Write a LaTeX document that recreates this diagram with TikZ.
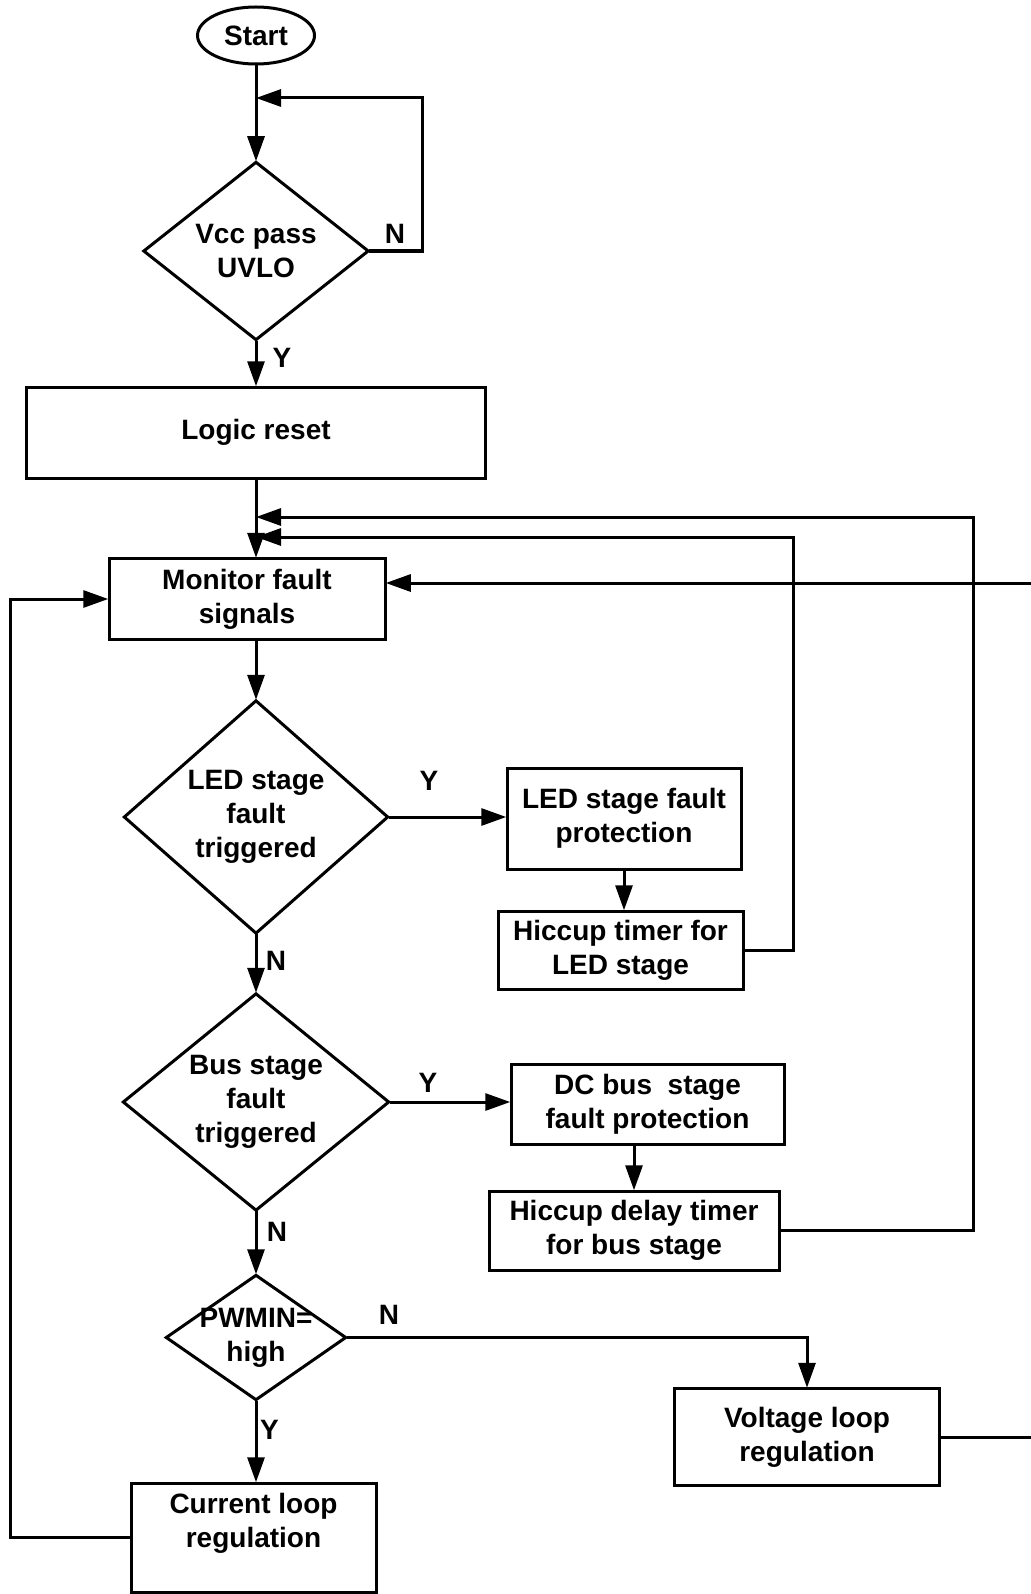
\documentclass[tikz,border=0pt]{standalone}
\usepackage{fontspec}
\setmainfont{Liberation Sans}
\usetikzlibrary{positioning,arrows.meta,shapes.geometric}

\begin{document}
\begin{tikzpicture}[x=1pt,y=-1pt,scale=.5,transform shape,line width=1.5pt,
    process/.style={draw,rectangle,inner sep=0pt,align=center,font=\fontsize{28}{34}\selectfont\bfseries},
    terminal/.style={draw,ellipse,inner sep=0pt,font=\fontsize{28}{34}\selectfont\bfseries},
    decision/.style={draw,diamond,inner sep=0pt},
    dtext/.style={align=center,inner sep=0pt,font=\fontsize{28}{34}\selectfont\bfseries},
    yn/.style={inner sep=0pt,font=\fontsize{28}{34}\selectfont\bfseries},
    flow/.style={-{Triangle[length=12.5pt,width=8.5pt]}}]
    \useasboundingbox (0,0) rectangle (1031,1594);
    % main column
    \node[terminal,minimum width=117pt,minimum height=57pt] (start) at (256,35.5) {Start};
    \node[decision,minimum width=225pt,minimum height=178pt,label={[dtext]center:{Vcc pass\\UVLO}}] (vcc) at (256,251) {};
    \node[process,minimum width=459pt,minimum height=91pt] (reset) at (256,432.5) {Logic reset};
    \node[process,minimum width=276pt,minimum height=81pt] (mon) at (247,599) {Monitor fault\\signals};
    \node[decision,minimum width=264pt,minimum height=233pt,label={[dtext]center:{LED stage\\fault\\triggered}}] (led) at (256,817) {};
    \node[decision,minimum width=266pt,minimum height=217pt,label={[dtext]center:{Bus stage\\fault\\triggered}}] (bus) at (256,1102) {};
    \node[decision,minimum width=180pt,minimum height=125pt,label={[dtext]center:{PWMIN=\\high}}] (pwm) at (256,1337.5) {};
    \node[process,minimum width=245pt,minimum height=109pt] (cur) at (253.5,1537.5) {Current loop\\regulation\\\mbox{}};
    % fault branches
    \node[process,minimum width=234pt,minimum height=101pt] (ledp) at (624,818.5) {LED stage fault\\protection};
    \node[process,minimum width=245pt,minimum height=78pt] (ledh) at (620.5,950) {Hiccup timer for\\LED stage};
    \node[process,minimum width=273pt,minimum height=80pt] (busp) at (647.5,1104) {DC bus\ \ stage\\fault protection};
    \node[process,minimum width=290pt,minimum height=79pt] (bush) at (634,1230.5) {Hiccup delay timer\\for bus stage};
    \node[process,minimum width=265pt,minimum height=97pt] (volt) at (807,1437) {Voltage loop\\regulation};
    % Y/N labels
    \node[yn] (n1) at (395,234) {N};
    \node[yn] (y1) at (282,357.5) {Y};
    \node[yn] (y2) at (429,781) {Y};
    \node[yn] (n2) at (276,961) {N};
    \node[yn] (y3) at (428,1083) {Y};
    \node[yn] (n3) at (277,1232) {N};
    \node[yn] (n4) at (389,1314.5) {N};
    \node[yn] (y4) at (269.5,1430) {Y};
    % junctions
    \coordinate (j1) at (256,98);
    \coordinate (r1) at (422,98);
    \coordinate (j2) at (256,517);
    \coordinate (r2) at (973,517);
    \coordinate (j3) at (256,537);
    \coordinate (r3) at (793,537);
    \coordinate (e1) at (1031,583);
    \coordinate (e2) at (1031,1437);
    \coordinate (lft) at (10,0);
    % connectors
    \draw[flow] (start) -- (vcc);
    \draw[flow] (vcc.east) -| (r1) -- (j1);
    \draw[flow] (vcc.south) -- (vcc.south |- reset.north);
    \draw[flow] (reset.south) -- (reset.south |- mon.north);
    \draw[flow] (mon.south -| led.north) -- (led.north);
    \draw[flow] (led.south) -- (bus.north);
    \draw[flow] (bus.south) -- (pwm.north);
    \draw[flow] (pwm.south) -- (pwm.south |- cur.north);
    \draw[flow] (led.east) -- (led.east -| ledp.west);
    \draw[flow] (ledp.south) -- (ledp.south |- ledh.north);
    \draw[flow] (bus.east) -- (bus.east -| busp.west);
    \draw[flow] (bush.north |- busp.south) -- (bush.north);
    \draw[flow] (pwm.east) -| (volt.north);
    \draw[flow] (ledh.east) -| (r3) -- (j3);
    \draw[flow] (bush.east) -| (r2) -- (j2);
    \draw[flow] (e1) -- (mon.east |- e1);
    \draw (volt.east) -- (e2);
    \draw[flow] (cur.west) -- (cur.west -| lft) |- (mon.west);
\end{tikzpicture}
\end{document}
